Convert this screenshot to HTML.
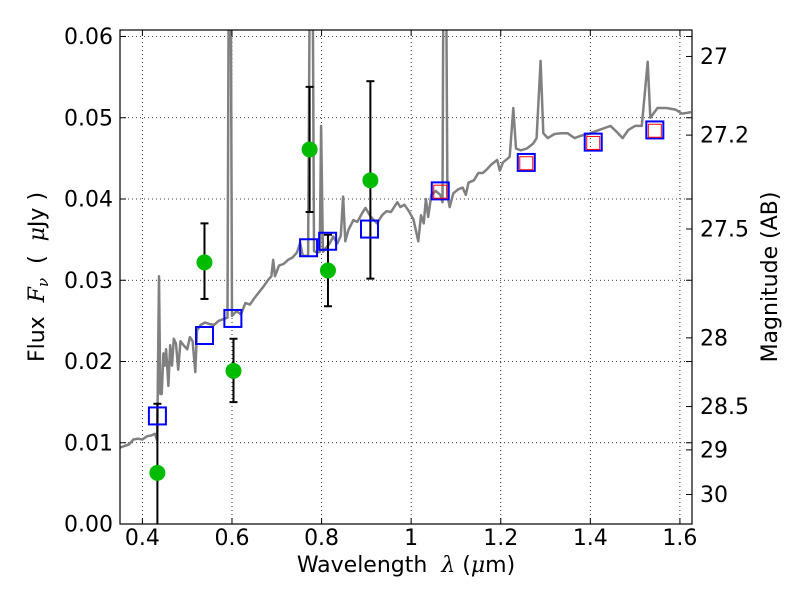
<!DOCTYPE html>
<html><head><meta charset="utf-8"><style>
html,body{margin:0;padding:0;background:#fff;}
svg{display:block;font-family:"DejaVu Sans","Liberation Sans",sans-serif;}
</style></head><body>
<svg id="chart" width="800" height="600" viewBox="0 0 800 600" xmlns="http://www.w3.org/2000/svg"></svg>
<script>
const specWl=[0.35,0.36,0.37,0.38,0.39,0.40,0.41,0.42,0.428,0.433,0.437,0.440,0.443,0.447,0.450,0.453,0.458,0.462,0.466,0.470,0.475,0.480,0.485,0.492,0.500,0.506,0.512,0.518,0.522,0.530,0.540,0.550,0.560,0.570,0.580,0.590,0.5935,0.5965,0.600,0.610,0.620,0.630,0.640,0.650,0.660,0.670,0.680,0.688,0.692,0.696,0.705,0.715,0.725,0.735,0.745,0.752,0.758,0.765,0.770,0.775,0.779,0.783,0.790,0.796,0.799,0.803,0.810,0.818,0.826,0.835,0.843,0.848,0.853,0.860,0.871,0.880,0.890,0.898,0.910,0.924,0.935,0.945,0.955,0.969,0.976,0.985,0.995,1.005,1.016,1.022,1.028,1.033,1.038,1.045,1.055,1.065,1.070,1.073,1.077,1.081,1.086,1.094,1.105,1.115,1.122,1.128,1.140,1.150,1.160,1.170,1.178,1.185,1.192,1.198,1.205,1.220,1.228,1.234,1.245,1.258,1.272,1.280,1.289,1.295,1.305,1.320,1.335,1.349,1.365,1.380,1.395,1.410,1.420,1.435,1.445,1.460,1.472,1.485,1.500,1.515,1.528,1.534,1.550,1.570,1.590,1.605,1.625];
const specFlux=[0.0094,0.0096,0.0098,0.0104,0.0105,0.0104,0.0108,0.0109,0.0111,0.0103,0.0305,0.016,0.0160,0.021,0.0195,0.0215,0.017,0.022,0.0195,0.0228,0.0222,0.019,0.0225,0.022,0.0215,0.023,0.0225,0.0187,0.0238,0.0245,0.0248,0.0246,0.0245,0.0250,0.0252,0.0254,0.08,0.08,0.0256,0.0262,0.0258,0.0272,0.0270,0.0278,0.0285,0.0292,0.030,0.0305,0.0325,0.0305,0.0318,0.032,0.0325,0.0328,0.0334,0.0346,0.033,0.033,0.033,0.08,0.08,0.0336,0.0334,0.0335,0.049,0.0335,0.0340,0.0345,0.0354,0.0345,0.0355,0.0403,0.0348,0.0362,0.0374,0.0372,0.0382,0.0389,0.0378,0.0370,0.038,0.0385,0.0384,0.0396,0.039,0.0393,0.0385,0.0375,0.0348,0.038,0.0370,0.040,0.0378,0.0405,0.041,0.0405,0.0396,0.08,0.08,0.0405,0.039,0.0407,0.0412,0.0414,0.0405,0.042,0.0423,0.0432,0.0432,0.0437,0.0442,0.0445,0.0448,0.0435,0.0445,0.0452,0.0512,0.0462,0.0460,0.0462,0.0468,0.0475,0.057,0.0481,0.0475,0.0480,0.0481,0.0481,0.0475,0.0478,0.0480,0.0483,0.0485,0.0488,0.0490,0.0482,0.0475,0.0485,0.049,0.049,0.0569,0.0500,0.0512,0.0512,0.0510,0.0505,0.0507];
const obsWl=[0.4335,0.5386,0.6034,0.7733,0.8143,0.909];
const obsFlux=[0.0063,0.0322,0.01885,0.0461,0.0312,0.0423];
const obsErrHi=[0.0148,0.0370,0.0228,0.0538,0.0356,0.0545];
const obsErrLo=[-0.002,0.0277,0.0150,0.0384,0.0268,0.0302];
const modelWl=[0.4335,0.5386,0.602,0.771,0.8135,0.907,1.065,1.257,1.4065,1.544];
const modelFlux=[0.0133,0.0232,0.0253,0.0340,0.0348,0.0363,0.0410,0.0445,0.0470,0.0485];
const nirWl=[1.065,1.257,1.4065,1.544];
const nirFlux=[0.0409,0.0444,0.0469,0.0484];
const xTicks=[0.4,0.6,0.8,1.0,1.2,1.4,1.6];
const xTickLabels=["0.4","0.6","0.8","1","1.2","1.4","1.6"];
const yTicks=[0,0.01,0.02,0.03,0.04,0.05,0.06];
const yTickLabels=["0.00","0.01","0.02","0.03","0.04","0.05","0.06"];
const magTicks=[27,27.2,27.5,28,28.5,29,30];
const magTickLabels=["27","27.2","27.5","28","28.5","29","30"];

const L=120,R=692,T=30,B=524;
const XMIN=0.35,XMAX=1.627,YMIN=0,YMAX=0.0608;
function sx(v){return L+(v-XMIN)/(XMAX-XMIN)*(R-L);}
function sy(v){return B-(v-YMIN)/(YMAX-YMIN)*(B-T);}
function magToFlux(m){return Math.pow(10,(23.9-m)/2.5);}
const NS="http://www.w3.org/2000/svg";
const svg=document.getElementById('chart');
function mk(tag,attrs,parent){const e=document.createElementNS(NS,tag);for(const k in attrs)e.setAttribute(k,attrs[k]);(parent||svg).appendChild(e);return e;}

const defs=mk('defs',{});
const cp=mk('clipPath',{id:'clip'},defs);
mk('rect',{x:L,y:T,width:R-L,height:B-T},cp);

const grid=mk('g',{});


xTicks.forEach(v=>{mk('line',{x1:sx(v),x2:sx(v),y1:T,y2:B,stroke:'#000','stroke-width':0.8,'stroke-dasharray':'1,3'},grid);});
yTicks.forEach(v=>{mk('line',{x1:L,x2:R,y1:sy(v),y2:sy(v),stroke:'#000','stroke-width':0.8,'stroke-dasharray':'1,3'},grid);});

const plot=mk('g',{'clip-path':'url(#clip)'});
let d='';
specWl.forEach((w,i)=>{d+=(i?'L':'M')+sx(w).toFixed(1)+','+sy(specFlux[i]).toFixed(1);});
const sp=mk('path',{d:d,fill:'none',stroke:'#808080','stroke-width':2.5,'stroke-linejoin':'round'},plot);



obsWl.forEach((w,i)=>{
  const g=mk('g',{},plot);
  
  
  const x=sx(w);
  mk('line',{x1:x,x2:x,y1:sy(obsErrHi[i]),y2:sy(obsErrLo[i]),stroke:'#000','stroke-width':2},g);
  mk('line',{x1:x-4,x2:x+4,y1:sy(obsErrHi[i]),y2:sy(obsErrHi[i]),stroke:'#000','stroke-width':2},g);
  mk('line',{x1:x-4,x2:x+4,y1:sy(obsErrLo[i]),y2:sy(obsErrLo[i]),stroke:'#000','stroke-width':2},g);
  mk('circle',{cx:x,cy:sy(obsFlux[i]),r:8,fill:'#00bb00'},g);
});
modelWl.forEach((w,i)=>{
  const r=mk('rect',{x:sx(w)-8.5,y:sy(modelFlux[i])-8.5,width:17,height:17,fill:'none',stroke:'#0000ff','stroke-width':2},plot);
  
  
});
nirWl.forEach((w,i)=>{
  const r=mk('rect',{x:sx(w)-6.5,y:sy(nirFlux[i])-6.5,width:13,height:13,fill:'none',stroke:'#ff0000','stroke-width':1},plot);
  
  
});

const fr=mk('rect',{x:L,y:T,width:R-L,height:B-T,fill:'none',stroke:'#000','stroke-width':1.2});



const xa=mk('g',{});


xTicks.forEach((v,i)=>{
  const x=sx(v);
  mk('line',{x1:x,x2:x,y1:B,y2:B-6,stroke:'#000'},xa);
  mk('line',{x1:x,x2:x,y1:T,y2:T+6,stroke:'#000'},xa);
  const t=mk('text',{x:x,y:B+21,'text-anchor':'middle','font-size':22},xa);t.textContent=xTickLabels[i];
});
const ya=mk('g',{});


yTicks.forEach((v,i)=>{
  const y=sy(v);
  mk('line',{x1:L,x2:L+6,y1:y,y2:y,stroke:'#000'},ya);
  mk('line',{x1:R,x2:R-6,y1:y,y2:y,stroke:'#000'},ya);
  const t=mk('text',{x:L-7,y:y+7.5,'text-anchor':'end','font-size':22},ya);t.textContent=yTickLabels[i];
});
const ra=mk('g',{});


magTicks.forEach((m,i)=>{
  const y=sy(magToFlux(m));
  mk('line',{x1:R,x2:R-6,y1:y,y2:y,stroke:'#000'},ra);
  const t=mk('text',{x:R+8,y:y+7.5,'font-size':22},ra);t.textContent=magTickLabels[i];
});
</script>
<svg style="position:absolute;left:0;top:0" width="800" height="600">
<text x="406" y="572" text-anchor="middle" font-size="22" font-family="DejaVu Sans, sans-serif" xml:space="preserve" style="white-space:pre">Wavelength  <tspan font-style="italic" font-family="DejaVu Serif, serif">λ</tspan> (<tspan font-style="italic" font-family="DejaVu Serif, serif">μ</tspan>m)</text>
<text transform="translate(44,277) rotate(-90)" text-anchor="middle" font-size="22" font-family="DejaVu Sans, sans-serif" xml:space="preserve" style="white-space:pre">Flux  <tspan font-style="italic" font-family="DejaVu Serif, serif">F</tspan><tspan font-style="italic" font-size="15" dy="4" font-family="DejaVu Serif, serif">ν</tspan><tspan dy="-4">  (  </tspan><tspan font-style="italic" font-family="DejaVu Serif, serif">μ</tspan>Jy )</text>
<text transform="translate(777,277) rotate(-90)" text-anchor="middle" font-size="22" font-family="DejaVu Sans, sans-serif">Magnitude (AB)</text>
</svg>
</body></html>
